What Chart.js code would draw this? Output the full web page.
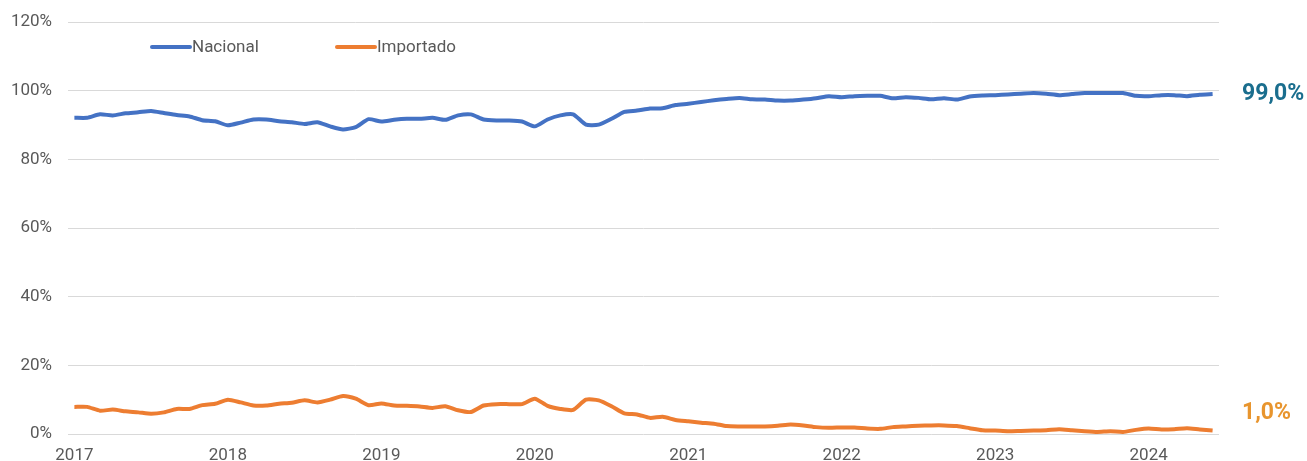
<!DOCTYPE html>
<html>
<head>
<meta charset="utf-8">
<script src="https://cdn.jsdelivr.net/npm/chart.js@4.4.1/dist/chart.umd.min.js"></script>
<style>
  html, body { margin: 0; padding: 0; background: #ffffff; }
  #wrap { width: 1307px; height: 461px; }
</style>
</head>
<body>
<div id="wrap"><canvas id="shareChart"></canvas></div>
<script>
// monthly data, Jan 2017 - Jun 2024
const years = [2017, 2018, 2019, 2020, 2021, 2022, 2023, 2024];
const months = [];
years.forEach(function (y) {
    for (let m = 1; m <= 12; m++) {
        if (y === 2024 && m > 6) break;
        months.push(y + '-' + String(m).padStart(2, '0'));
    }
});

const nacional = [
    92.1, 92.1, 93.1, 92.8, 93.4, 93.7, 94.1, 93.5, 92.9, 92.5, 91.4, 91.1,
    89.9, 90.7, 91.6, 91.6, 91.1, 90.8, 90.3, 90.8, 89.6, 88.7, 89.4, 91.7,
    91.0, 91.5, 91.8, 91.8, 92.1, 91.5, 92.8, 93.1, 91.6, 91.3, 91.3, 91.0,
    89.6, 91.6, 92.8, 93.1, 90.1, 90.1, 91.8, 93.8, 94.2, 94.8, 94.9, 95.8,
    96.2, 96.7, 97.2, 97.6, 97.9, 97.5, 97.4, 97.1, 97.1, 97.4, 97.8, 98.4,
    98.1, 98.4, 98.5, 98.5, 97.8, 98.1, 97.9, 97.5, 97.8, 97.4, 98.3, 98.6,
    98.7, 98.9, 99.1, 99.3, 99.1, 98.7, 99.0, 99.3, 99.3, 99.3, 99.3, 98.5,
    98.4, 98.7, 98.7, 98.4, 98.8, 99.0
];

const importado = [
    7.9, 7.9, 6.8, 7.1, 6.6, 6.3, 5.9, 6.3, 7.3, 7.3, 8.4, 8.8,
    10.0, 9.2, 8.3, 8.3, 8.8, 9.1, 9.8, 9.2, 10.0, 11.1, 10.3, 8.4,
    8.9, 8.3, 8.2, 8.0, 7.6, 8.1, 6.9, 6.4, 8.3, 8.7, 8.7, 8.7,
    10.3, 8.2, 7.3, 7.0, 10.0, 9.8, 8.1, 6.0, 5.7, 4.7, 5.0, 4.1,
    3.7, 3.3, 3.0, 2.3, 2.2, 2.2, 2.2, 2.4, 2.8, 2.5, 2.0, 1.8,
    1.9, 1.9, 1.6, 1.5, 2.0, 2.2, 2.4, 2.5, 2.5, 2.3, 1.7, 1.1,
    1.0, 0.8, 0.9, 1.0, 1.1, 1.4, 1.1, 0.8, 0.6, 0.8, 0.6, 1.2,
    1.6, 1.3, 1.4, 1.7, 1.3, 1.0
];

const endLabels = ['99,0%', '1,0%'];

const blue = '#4472c4';
const orange = '#ed7d31';

// legend inside the plot and value labels at the right end
const overlayPlugin = {
    id: 'overlay',
    afterDatasetsDraw: function (chart) {
        const ctx = chart.ctx;
        const area = chart.chartArea;
        ctx.save();

        // legend
        const items = [
            { text: 'Nacional', color: blue, x: area.left + 82 },
            { text: 'Importado', color: orange, x: area.left + 267 }
        ];
        const ly = area.top + 25;
        items.forEach(function (it) {
            ctx.strokeStyle = it.color;
            ctx.lineWidth = 4;
            ctx.lineCap = 'round';
            ctx.beginPath();
            ctx.moveTo(it.x + 2, ly);
            ctx.lineTo(it.x + 40, ly);
            ctx.stroke();
            ctx.fillStyle = '#595959';
            ctx.font = '17px Roboto';
            ctx.textAlign = 'left';
            ctx.textBaseline = 'middle';
            ctx.fillText(it.text, it.x + 42, ly + 1);
        });

        // end labels
        const colors = ['#1a6e8e', '#e8952e'];
        const offsets = [0, -17];
        chart.data.datasets.forEach(function (ds, i) {
            const meta = chart.getDatasetMeta(i);
            const last = meta.data[meta.data.length - 1];
            ctx.fillStyle = colors[i];
            ctx.font = 'bold 23px Roboto';
            ctx.textAlign = 'left';
            ctx.textBaseline = 'middle';
            ctx.fillText(endLabels[i], area.right + 23, last.y + offsets[i]);
        });
        ctx.restore();
    }
};

document.addEventListener('DOMContentLoaded', function () {
    const ctx = document.getElementById('shareChart').getContext('2d');
    new Chart(ctx, {
        type: 'line',
        data: {
            labels: months,
            datasets: [{
                label: 'Nacional',
                data: nacional,
                borderColor: blue,
                borderWidth: 4,
                pointRadius: 0,
                tension: 0.2,
                fill: false
            }, {
                label: 'Importado',
                data: importado,
                borderColor: orange,
                borderWidth: 4,
                pointRadius: 0,
                tension: 0.2,
                fill: false
            }]
        },
        options: {
            responsive: true,
            maintainAspectRatio: false,
            animation: false,
            layout: {
                padding: { top: 22, right: 88, left: 0, bottom: 0 }
            },
            plugins: {
                legend: { display: false },
                tooltip: { enabled: false }
            },
            scales: {
                x: {
                    offset: true,
                    grid: { display: false, drawTicks: false },
                    border: { display: false },
                    ticks: {
                        autoSkip: false,
                        maxRotation: 0,
                        padding: 12,
                        color: '#595959',
                        font: { family: 'Roboto', size: 17 },
                        callback: function (value, index) {
                            const lab = months[index];
                            return lab.slice(5) === '01' ? lab.slice(0, 4) : null;
                        }
                    },
                    afterFit: function (scale) { scale.height = 27; }
                },
                y: {
                    min: 0,
                    max: 120,
                    grid: { color: '#d9d9d9', lineWidth: 1, drawTicks: false },
                    border: { display: false },
                    ticks: {
                        stepSize: 20,
                        padding: 16,
                        color: '#595959',
                        font: { family: 'Roboto', size: 17 },
                        callback: function (v) { return v + '%'; }
                    },
                    afterFit: function (scale) {
                        scale.width = 68;
                        scale.paddingTop = 0;
                        scale.paddingBottom = 0;
                    }
                }
            }
        },
        plugins: [overlayPlugin]
    });
});
</script>
</body>
</html>
